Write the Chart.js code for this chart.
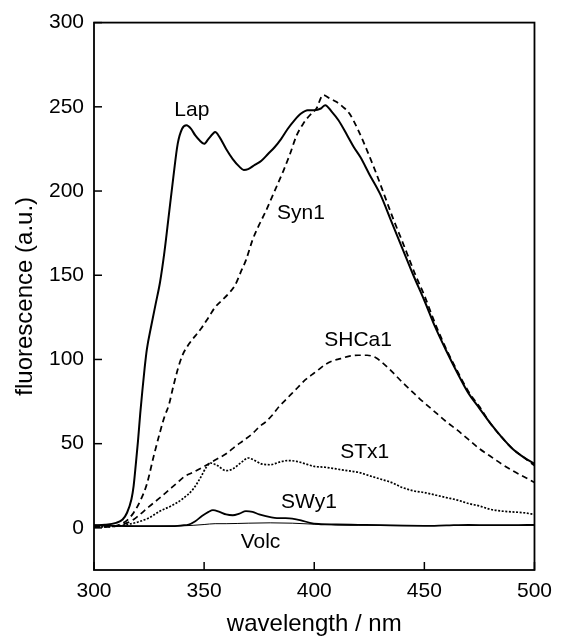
<!DOCTYPE html>
<html>
<head>
<meta charset="utf-8">
<script src="https://cdn.jsdelivr.net/npm/chart.js@4/dist/chart.umd.min.js"></script>
<style>
  html, body { margin: 0; padding: 0; background: #fff; }
  canvas { display: block; }
</style>
</head>
<body>
<canvas id="c" width="561" height="636"></canvas>
<script>
// ---- data ----
const xTicks = [300, 350, 400, 450, 500];
const yTicks = [0, 50, 100, 150, 200, 250, 300];

const lapWl = [300,305,310,313,315,317,318,319,320,321,322,323,324,326,328,330,332,334,336,338,340,342,344,346,348,350,352,354,355,357,360,363,366,368,370,373,376,379,382,385,388,391,394,397,400,403,405,408,411,415,418,421,425,430,435,440,445,450,455,460,465,470,475,480,485,490,495,500];
const lapFl = [1.5,1.8,3,5,9,17,25,38,52,68,82,95,106,120,133,146,164,186,208,228,237,239,237,233,230,228,231,234,235,232,225,219,214.5,212.5,213,215.5,218,222,226,231,237,242,246,248,248,249,251,247,242,233,226,220,210,198,182,166,150,135,119,105,92,80,71,62,54,47,42,38];

const syn1Wl = [300,305,310,313,315,318,321,324,327,330,332,334,336,338,340,343,346,349,352,355,358,361,364,367,369,372,375,378,382,386,389,392,395,398,401,404,407,410,413,416,420,424,428,432,436,440,443,446,450,455,460,465,470,475,480,485,490,495,500];
const syn1Fl = [0.5,0.7,1.2,2.8,4.5,9,16,26,42,57,66,73,84,94,102,109,114,119,125,131,135,139,144,153,159,171,180,188,200,212,222,233,240,245,249,257,255,253,250,246,236,224,211,197,183,170,160,150,138,121,106,93,81,72,62,54,47,42,37];

const shca1Wl = [300,310,315,318,320,325,330,334,338,341,345,350,355,360,364,368,372,375,378,381,384,387,390,393,396,399,402,405,408,412,416,420,424,428,431,434,437,440,444,448,452,456,460,465,470,475,480,485,490,495,500];
const shca1Fl = [0.5,1,3,5,7,12.6,18,22.5,27,30.4,33,36.5,40.3,44,48.2,52,56,60,63,67,72,76,80,84,88,91,94,97,99,100.5,102,102.5,102.5,101,98,94.5,90.5,86.5,81.5,76.5,72,67.5,63,58,52.5,47,42.5,38,34,30.5,27];

const stx1Wl = [300,310,315,320,325,330,335,340,345,348,351,353,356,360,363,367,370,373,376,380,384,388,392,396,400,405,410,415,420,425,430,435,440,445,450,455,460,465,470,475,480,485,490,495,500];
const stx1Fl = [0.5,1,2,3.5,6,10,13,17,23,29,36,38.5,37,34,35,39,41.5,40,38,37.5,39,40,39.5,38,36.5,36,35,34,33,31,29,27,24,22,21,19.5,18,16.5,14.5,13,11,10,9.5,9,8];

const swy1Wl = [300,320,335,340,343,346,349,352,354,357,360,363,366,369,372,375,378,382,386,390,394,398,402,410,420,430,440,450,460,470,480,490,500];
const swy1Fl = [1.5,1,1,1.5,2,4,7,9.5,10.5,9.5,8,7.5,8.5,10,9.5,8,7,6,5.8,5.5,4.5,3,2.3,2,1.8,1.6,1.3,1.2,1.5,1.8,1.6,1.6,1.8];

const volcWl = [300,320,340,350,355,360,370,380,390,400,410,420,450,500];
const volcFl = [1.5,1,1.2,2,2.5,2.5,2.8,3,2.8,2.2,1.8,1.6,1.4,1.5];

const seriesNames = ['Lap', 'Syn1', 'SHCa1', 'STx1', 'SWy1', 'Volc'];
const labelWl = [344.4, 394, 419.9, 422.9, 397.6, 375.6];
const labelFl = [248, 187, 111.5, 44.8, 15.1, -8.6];

// ---- build ----
const pts = (xs, ys) => xs.map((x, i) => ({ x: x, y: ys[i] }));
const FONT = '"Liberation Sans", Arial, Helvetica, sans-serif';

const styles = [
  { borderWidth: 2.0, borderDash: [] },
  { borderWidth: 1.8, borderDash: [6, 4] },
  { borderWidth: 1.7, borderDash: [6, 4] },
  { borderWidth: 1.7, borderDash: [2, 1.6] },
  { borderWidth: 1.8, borderDash: [] },
  { borderWidth: 1.0, borderDash: [] }
];
const seriesData = [
  pts(lapWl, lapFl), pts(syn1Wl, syn1Fl), pts(shca1Wl, shca1Fl),
  pts(stx1Wl, stx1Fl), pts(swy1Wl, swy1Fl), pts(volcWl, volcFl)
];

const datasets = seriesNames.map((name, i) => ({
  label: name,
  data: seriesData[i],
  borderColor: '#000',
  backgroundColor: '#000',
  borderWidth: styles[i].borderWidth,
  borderDash: styles[i].borderDash,
  pointRadius: 0,
  fill: false,
  cubicInterpolationMode: 'monotone'
}));

const framePlugin = {
  id: 'frame',
  afterDatasetsDraw(chart) {
    const { ctx, chartArea: a, scales } = chart;
    ctx.save();
    ctx.strokeStyle = '#000';
    ctx.lineWidth = 1.5;
    ctx.setLineDash([]);
    // inward tick marks
    scales.x.ticks.forEach(t => {
      const px = scales.x.getPixelForValue(t.value);
      ctx.beginPath(); ctx.moveTo(px, a.bottom); ctx.lineTo(px, a.bottom - 8); ctx.stroke();
    });
    scales.y.ticks.forEach(t => {
      const py = scales.y.getPixelForValue(t.value);
      ctx.beginPath(); ctx.moveTo(a.left, py); ctx.lineTo(a.left + 8, py); ctx.stroke();
    });
    // frame
    ctx.lineWidth = 1.8;
    ctx.strokeRect(a.left, a.top, a.right - a.left, a.bottom - a.top);
    // series labels
    ctx.fillStyle = '#000';
    ctx.font = '21px ' + FONT;
    ctx.textAlign = 'center';
    ctx.textBaseline = 'middle';
    seriesNames.forEach((n, i) => {
      ctx.fillText(n, scales.x.getPixelForValue(labelWl[i]), scales.y.getPixelForValue(labelFl[i]));
    });
    ctx.restore();
  }
};

new Chart(document.getElementById('c'), {
  type: 'line',
  data: { datasets: datasets },
  options: {
    responsive: false,
    animation: false,
    layout: { padding: { top: 22, right: 18, left: 0, bottom: 0 } },
    plugins: { legend: { display: false }, tooltip: { enabled: false } },
    scales: {
      x: {
        type: 'linear', min: 300, max: 500,
        afterBuildTicks: s => { s.ticks = xTicks.map(v => ({ value: v })); },
        afterFit: s => { s.height = 66; },
        grid: { display: false, drawTicks: false },
        border: { display: false },
        ticks: { color: '#000', font: { family: FONT, size: 21 }, padding: 9, maxRotation: 0 },
        title: { display: true, text: 'wavelength / nm', color: '#000',
                 font: { family: FONT, size: 24, lineHeight: 1.0 }, padding: { top: 0, bottom: 0 } }
      },
      y: {
        type: 'linear', min: -25, max: 300,
        afterBuildTicks: s => { s.ticks = yTicks.map(v => ({ value: v })); },
        afterFit: s => { s.width = 94; },
        grid: { display: false, drawTicks: false },
        border: { display: false },
        ticks: { color: '#000', font: { family: FONT, size: 21 }, padding: 10 },
        title: { display: true, text: 'fluorescence (a.u.)', color: '#000',
                 font: { family: FONT, size: 24, lineHeight: 1.0 }, padding: { top: 13, bottom: 0 } }
      }
    }
  },
  plugins: [framePlugin]
});
</script>
</body>
</html>
